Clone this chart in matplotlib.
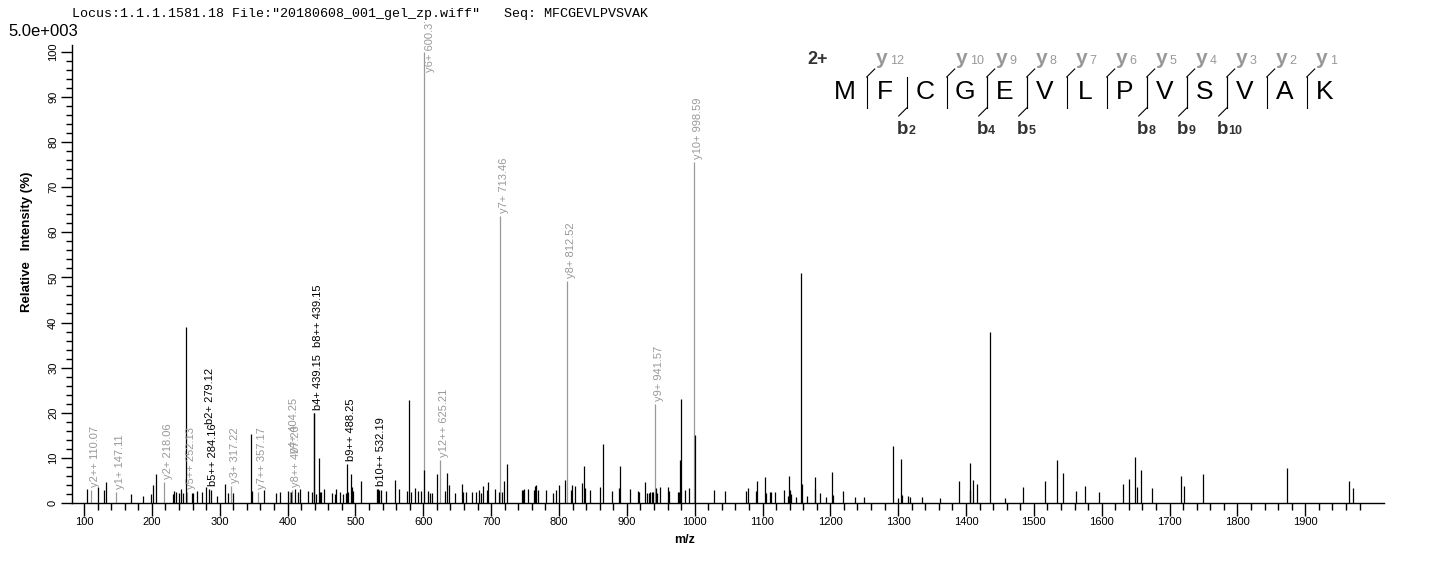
import matplotlib
matplotlib.use("Agg")
import matplotlib.pyplot as plt
from matplotlib.lines import Line2D
from matplotlib.transforms import Bbox, TransformedBbox
from matplotlib.ticker import MultipleLocator, FixedLocator

W, H = 1436, 562
plt.rcParams['font.family'] = ['Liberation Sans', 'DejaVu Sans']

# ---------------- data ----------------
title_text = 'Locus:1.1.1.1581.18 File:"20180608_001_gel_zp.wiff"   Seq: MFCGEVLPVSVAK'
scale_text = "5.0e+003"
x_label = "m/z"
y_label = "Relative   Intensity (%)"
sequence = list("MFCGEVLPVSVAK")
charge_text = "2+"
y_ions = [12, 10, 9, 8, 7, 6, 5, 4, 3, 2, 1]
b_ions = [2, 4, 5, 8, 9, 10]

peak_mz = [104.9, 121.0, 129.5, 132.4, 169.7, 187.4, 198.2, 202.1, 206.5, 230.6,
           233.0, 235.5, 240.4, 242.4, 245.3, 250.2, 258.5, 261.0, 266.9, 274.2,
           286.5, 296.4, 308.1, 312.6, 318.9, 346.0, 347.9, 365.6, 382.8, 388.7,
           400.0, 405.8, 411.7, 415.6, 419.0, 430.3, 436.2, 441.5, 446.6, 447.8,
           450.0, 454.0, 465.7, 469.7, 471.6, 478.0, 481.9, 485.9, 489.8, 493.7,
           495.2, 496.7, 508.4, 533.0, 534.9, 537.9, 545.8, 559.0, 564.4, 576.2,
           579.1, 582.6, 587.9, 592.4, 596.3, 601.3, 607.6, 610.6, 613.0, 620.4,
           632.7, 635.1, 637.6, 646.9, 657.2, 658.7, 663.1, 672.4, 678.3, 682.2,
           685.7, 688.1, 694.0, 696.0, 705.8, 711.2, 716.6, 719.1, 724.0, 745.6,
           747.1, 748.6, 755.0, 763.3, 764.7, 765.7, 769.1, 781.4, 791.2, 796.1,
           799.9, 808.9, 817.7, 819.2, 823.6, 833.9, 836.9, 838.3, 845.7, 860.0,
           864.9, 878.6, 887.9, 889.9, 904.6, 916.4, 917.9, 926.7, 929.7, 932.1,
           934.6, 937.0, 939.0, 943.0, 944.4, 948.7, 960.5, 962.0, 975.3, 976.7,
           978.2, 979.7, 985.6, 991.5, 1000.4, 1028.3, 1044.5, 1075.5, 1078.4, 1090.7,
           1091.6, 1103.0, 1104.9, 1110.8, 1112.3, 1118.2, 1131.4, 1137.8, 1138.8, 1139.8,
           1141.7, 1149.0, 1156.9, 1157.9, 1165.3, 1177.1, 1178.1, 1184.4, 1193.8, 1202.1,
           1203.5, 1218.3, 1235.9, 1249.2, 1291.9, 1299.8, 1303.7, 1305.2, 1314.0, 1317.0,
           1334.6, 1361.1, 1389.1, 1405.3, 1406.3, 1409.7, 1415.6, 1434.8, 1456.8, 1483.3,
           1515.8, 1533.4, 1542.3, 1561.4, 1575.2, 1595.3, 1630.6, 1639.5, 1648.3, 1651.3,
           1657.2, 1674.8, 1717.5, 1720.5, 1748.5, 1873.7, 1965.0, 1970.8]
peak_int = [3.1, 3.6, 2.8, 4.6, 2.0, 1.6, 2.1, 4.0, 6.4, 2.1,
            2.7, 2.4, 2.2, 3.1, 2.2, 39.0, 2.2, 2.2, 2.7, 2.5,
            2.9, 1.6, 4.2, 2.3, 2.2, 15.4, 2.6, 2.9, 2.3, 2.4,
            2.7, 2.4, 3.0, 2.5, 3.2, 2.7, 2.4, 2.1, 10.0, 2.4,
            2.5, 3.0, 2.2, 2.0, 3.0, 2.4, 2.0, 2.3, 2.4, 6.4,
            3.6, 2.7, 4.9, 3.0, 2.9, 2.9, 2.7, 5.1, 3.1, 2.7,
            22.8, 2.5, 3.3, 2.7, 2.7, 7.3, 2.7, 2.3, 2.3, 6.4,
            2.7, 6.6, 4.0, 2.3, 4.1, 2.4, 2.4, 2.4, 2.4, 2.9,
            2.3, 3.8, 2.9, 4.6, 3.0, 2.4, 2.4, 4.9, 8.6, 2.9,
            2.9, 3.1, 3.2, 2.9, 3.8, 4.0, 2.9, 2.9, 2.3, 2.9,
            4.0, 5.0, 2.9, 4.0, 3.8, 4.4, 8.1, 3.4, 2.9, 3.6,
            13.0, 2.7, 3.4, 8.1, 3.2, 2.7, 2.4, 4.7, 2.3, 2.3,
            2.4, 2.5, 2.4, 3.3, 2.3, 3.6, 3.6, 2.7, 2.5, 2.5,
            9.5, 23.0, 2.9, 3.4, 15.1, 2.9, 2.7, 2.7, 3.3, 2.7,
            4.9, 5.8, 2.2, 2.4, 2.4, 2.4, 2.9, 1.6, 6.0, 2.9,
            2.1, 1.3, 51.0, 4.2, 1.6, 5.8, 3.1, 2.2, 1.3, 6.9,
            1.8, 2.7, 1.3, 1.3, 12.6, 1.1, 9.8, 1.8, 1.6, 1.3,
            1.3, 1.1, 4.9, 8.9, 2.9, 5.1, 4.2, 38.0, 1.1, 3.5,
            4.9, 9.5, 6.7, 2.7, 3.8, 2.4, 4.2, 5.3, 10.2, 3.5,
            7.3, 3.3, 6.0, 3.8, 6.4, 7.8, 4.9, 3.3]

ann_labels = ["y2++ 110.07", "y1+ 147.11", "y2+ 218.06", "y5++ 252.13", "b2+ 279.12",
              "b5++ 284.16", "y3+ 317.22", "y7++ 357.17", "y4+ 404.25", "y8++ 407.20",
              "b4+ 439.15", "b8++ 439.15", "b9++ 488.25", "b10++ 532.19", "y6+ 600.37",
              "y12++ 625.21", "y7+ 713.46", "y8+ 812.52", "y9+ 941.57", "y10+ 998.59"]
ann_mz = [110.07, 147.11, 218.06, 252.13, 279.12,
          284.16, 317.22, 357.17, 404.25, 407.20,
          439.15, 439.15, 488.25, 532.19, 600.37,
          625.21, 713.46, 812.52, 941.57, 998.59]
ann_int = [2.9, 2.5, 4.7, 2.4, 3.6,
           3.0, 3.8, 2.5, 2.4, 2.9,
           19.9, 19.9, 8.6, 3.0, 100.0,
           9.5, 63.5, 49.1, 21.9, 75.5]
ann_type = ["y", "y", "y", "y", "b",
            "b", "y", "y", "y", "y",
            "b", "b", "b", "b", "y",
            "y", "y", "y", "y", "y"]

# labels moved to avoid collisions / the page edge (base level in %)
stacked_base = {"b2+ 279.12": 17.6, "b8++ 439.15": 34.6, "y4+ 404.25": 11.0,
                "y6+ 600.37": 95.5}

GRAY = "#999999"
DARK = "#333333"

def fx(x):
    return x / W

def fy(y):
    return 1 - y / H

fig = plt.figure(figsize=(W / 100, H / 100), dpi=100)
fig.patch.set_facecolor("white")
ax = fig.add_axes([fx(72), fy(503), (1384 - 72) / W, (503 - 45) / H])
ax.set_xlim(82.3, 2016)
ax.set_ylim(0, 101.5)

colors = [GRAY if t == "y" else "black" for t in ann_type]
ax.vlines(ann_mz, 0, ann_int, colors=colors, lw=0.9)
ax.vlines(peak_mz, 0, peak_int, colors="black", lw=0.9)

clip = TransformedBbox(Bbox([[0, 0], [1, 1 - 22 / H]]), fig.transFigure)
for lab, mz, h, t in zip(ann_labels, ann_mz, ann_int, ann_type):
    base = stacked_base.get(lab, h)
    off = 0 if lab in stacked_base else 3
    txt = ax.annotate(lab, xy=(mz, base), xytext=(1 if lab == "y6+ 600.37" else -1, off),
                      textcoords="offset pixels",
                      rotation=90, ha="left", va="bottom", fontsize=8,
                      color=GRAY if t == "y" else "black", annotation_clip=False)
    txt.set_clip_box(clip)
    txt.set_clip_on(True)

for s in ["top", "right"]:
    ax.spines[s].set_visible(False)
for s in ["left", "bottom"]:
    ax.spines[s].set_linewidth(1.0)

ax.xaxis.set_major_locator(FixedLocator(list(range(100, 2000, 100))))
ax.xaxis.set_minor_locator(FixedLocator(list(range(100, 2000, 20))))
ax.yaxis.set_major_locator(MultipleLocator(10))
ax.yaxis.set_minor_locator(MultipleLocator(2))
ax.tick_params(axis="x", which="major", length=9, width=1, labelsize=8, pad=1)
ax.tick_params(axis="x", which="minor", length=5, width=1)
ax.tick_params(axis="y", which="major", length=8, width=1, labelsize=8, pad=2, labelrotation=90)
ax.tick_params(axis="y", which="minor", length=4, width=1)
for lbl in ax.get_yticklabels():
    lbl.set_va("center")

fig.text(fx(685), fy(540), x_label, ha="center", va="center", fontsize=9, fontweight="bold")
fig.text(fx(27), fy(242), y_label, ha="center", va="center", rotation=90, fontsize=9.5,
         fontweight="bold")
fig.text(fx(72), fy(14), title_text, ha="left", va="center", fontsize=9.6,
         family=["Liberation Mono", "DejaVu Sans Mono"])
fig.text(fx(8), fy(31), scale_text, ha="left", va="center", fontsize=12)

# ---------------- sequence coverage panel ----------------
def sep_x(k):
    return 866.7 + 40 * (k - 1)

fig.text(fx(818), fy(59), charge_text, ha="center", va="center", fontsize=13,
         fontweight="bold", color=DARK)
for i, aa in enumerate(sequence, start=1):
    fig.text(fx(sep_x(i - 1) + 18), fy(92), aa, ha="center", va="center", fontsize=19,
             color="black")

def seg(x1, y1, x2, y2):
    fig.add_artist(Line2D([fx(x1), fx(x2)], [fy(y1), fy(y2)], transform=fig.transFigure,
                          color="black", lw=0.8))

n = len(sequence)
for yi in y_ions:
    k = n - yi
    x = sep_x(k)
    seg(x, 77, x, 108)
    seg(x, 77, x + 8, 69)
    fig.text(fx(x + 9), fy(64), "y", ha="left", va="baseline", fontsize=15,
             fontweight="bold", color=GRAY)
    fig.text(fx(x + 23), fy(64), str(yi), ha="left", va="baseline", fontsize=9, color=GRAY)
for bi in b_ions:
    x = sep_x(bi)
    seg(x, 77, x, 108)
    seg(x, 108, x - 8, 116)
    fig.text(fx(x - 10), fy(134.5), "b", ha="left", va="baseline", fontsize=13.5,
             fontweight="bold", color=DARK)
    fig.text(fx(x + 1.5), fy(134.5), str(bi), ha="left", va="baseline", fontsize=9,
             fontweight="bold", color=DARK)

fig.savefig("out.png", dpi=100, facecolor="white")
